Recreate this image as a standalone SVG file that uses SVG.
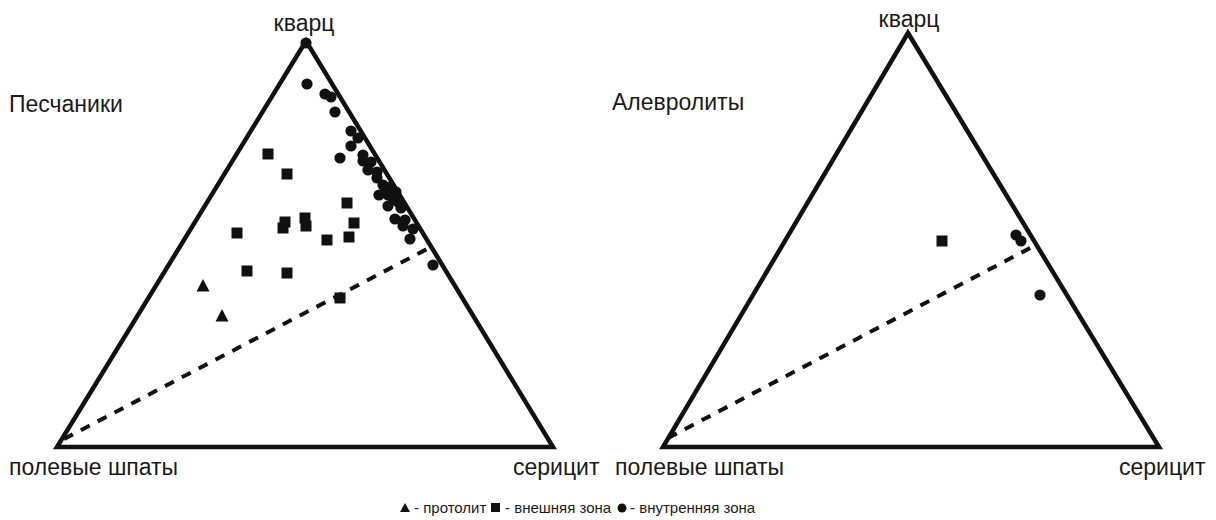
<svg xmlns="http://www.w3.org/2000/svg" width="1216" height="520" viewBox="0 0 1216 520">
<defs>
<style>
.tri{fill:none;stroke:#111;stroke-width:4.5;stroke-linejoin:miter}
.dash{fill:none;stroke:#111;stroke-width:4;stroke-dasharray:10 9}
.lbl{font-family:"Liberation Sans",Arial,sans-serif;font-size:23px;fill:#1a1a1a}
.leg{font-family:"Liberation Sans",Arial,sans-serif;font-size:15px;fill:#1a1a1a}
.c{fill:#111}
.s{fill:#111}
</style>
<rect id="sq" x="-5.5" y="-5.5" width="11" height="11"/>
<polygon id="tr" points="0,-7 6.5,5.5 -6.5,5.5"/>
</defs>
<rect width="1216" height="520" fill="#fff"/>

<g id="left-diagram">
<polygon class="tri" points="306,41 57,447 553,447"/>
<text class="lbl" x="304" y="31" text-anchor="middle">кварц</text>
<text class="lbl" x="9" y="112">Песчаники</text>
<text class="lbl" x="9" y="475">полевые шпаты</text>
<text class="lbl" x="513" y="475">серицит</text>
</g>

<g id="right-diagram">
<polygon class="tri" points="908,33 663,447 1159,447"/>
<text class="lbl" x="909" y="27" text-anchor="middle">кварц</text>
<text class="lbl" x="612" y="110">Алевролиты</text>
<text class="lbl" x="615" y="475">полевые шпаты</text>
<text class="lbl" x="1119" y="475">серицит</text>
</g>

<g id="connectors">
<line class="dash" x1="64" y1="439" x2="429" y2="248"/>
<line class="dash" x1="668" y1="438" x2="1034" y2="246"/>
</g>

<g id="left-points">
<g class="c">
<circle cx="306" cy="43" r="5.6"/>
<circle cx="307" cy="84" r="5.6"/>
<circle cx="325" cy="94" r="5.6"/>
<circle cx="331" cy="97" r="5.6"/>
<circle cx="335" cy="112" r="5.6"/>
<circle cx="351" cy="131" r="5.6"/>
<circle cx="358" cy="138" r="5.6"/>
<circle cx="351" cy="146" r="5.6"/>
<circle cx="340" cy="158" r="5.6"/>
<circle cx="363" cy="155" r="5.6"/>
<circle cx="363" cy="161" r="5.6"/>
<circle cx="371" cy="162" r="5.6"/>
<circle cx="368" cy="170" r="5.6"/>
<circle cx="377" cy="172" r="5.6"/>
<circle cx="377" cy="178" r="5.6"/>
<circle cx="383" cy="185" r="5.6"/>
<circle cx="390" cy="187" r="5.6"/>
<circle cx="386" cy="190" r="5.6"/>
<circle cx="396" cy="192" r="5.6"/>
<circle cx="379" cy="195" r="5.6"/>
<circle cx="388" cy="195" r="5.6"/>
<circle cx="393" cy="198" r="5.6"/>
<circle cx="398" cy="202" r="5.6"/>
<circle cx="388" cy="206" r="5.6"/>
<circle cx="401" cy="208" r="5.6"/>
<circle cx="395" cy="219" r="5.6"/>
<circle cx="405" cy="220" r="5.6"/>
<circle cx="403" cy="226" r="5.6"/>
<circle cx="413" cy="229" r="5.6"/>
<circle cx="410" cy="239" r="5.6"/>
<circle cx="433" cy="265" r="5.6"/>
</g>
<g class="s">
<use href="#sq" x="268" y="154"/>
<use href="#sq" x="287" y="174"/>
<use href="#sq" x="347" y="203"/>
<use href="#sq" x="354" y="223"/>
<use href="#sq" x="349" y="237"/>
<use href="#sq" x="327" y="240"/>
<use href="#sq" x="305" y="218"/>
<use href="#sq" x="306" y="226"/>
<use href="#sq" x="285" y="222"/>
<use href="#sq" x="283" y="228"/>
<use href="#sq" x="237" y="233"/>
<use href="#sq" x="247" y="271"/>
<use href="#sq" x="287" y="273"/>
<use href="#sq" x="340" y="298"/>
</g>
<g class="s">
<use href="#tr" x="203" y="286"/>
<use href="#tr" x="222" y="316"/>
</g>
</g>

<g id="right-points">
<use class="s" href="#sq" x="942" y="241"/>
<g class="c">
<circle cx="1016" cy="235" r="5.6"/>
<circle cx="1021" cy="241" r="5.6"/>
<circle cx="1040" cy="295" r="5.6"/>
</g>
</g>

<g id="legend">
<polygon class="s" points="405,503 410,512 400,512"/>
<text class="leg" x="414" y="513">- протолит</text>
<rect class="s" x="491" y="503" width="9" height="9"/>
<text class="leg" x="505" y="513">- внешняя зона</text>
<circle class="c" cx="622" cy="508" r="4.5"/>
<text class="leg" x="630" y="513">- внутренняя зона</text>
</g>
</svg>
